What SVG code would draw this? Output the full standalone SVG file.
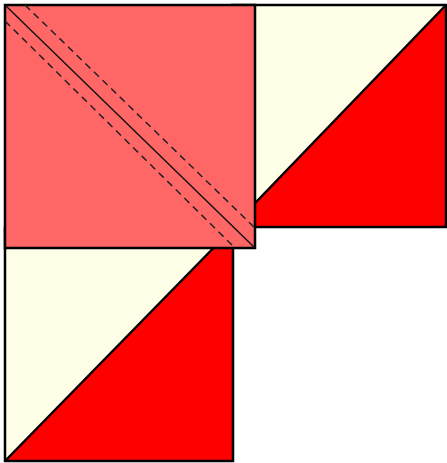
<svg xmlns="http://www.w3.org/2000/svg" width="447" height="463" viewBox="0 0 447 463">
<style>
.cream{fill:#ffffe8;stroke:none}
.red{fill:#ff0000;stroke:none}
.edge{fill:none;stroke:#000;stroke-width:2.5;stroke-linejoin:miter}
.pink{fill:#ff6666;stroke:#000;stroke-width:2.5}
.seam{stroke:#111;stroke-width:1.4;fill:none}
.dash{stroke:#222;stroke-width:1.5;fill:none;stroke-dasharray:7 5}
</style>
<rect width="447" height="463" fill="#fff"/>
<g id="block-bottom">
<polygon class="cream" points="5,228 233,228 5,461"/>
<polygon class="red" points="233,228 233,461 5,461"/>
<rect class="edge" x="5" y="228" width="228" height="233"/>
<line class="edge" x1="5" y1="461" x2="233" y2="228"/>
</g>
<g id="block-right">
<polygon class="cream" points="232,5 446,5 232,227"/>
<polygon class="red" points="446,5 446,227 232,227"/>
<rect class="edge" x="232" y="5" width="214" height="222"/>
<line class="edge" x1="232" y1="227" x2="446" y2="5"/>
</g>
<g id="square-pink">
<rect class="pink" x="5" y="5" width="250" height="243"/>
<line class="seam" x1="5" y1="5" x2="255" y2="248"/>
<line class="dash" x1="25" y1="5" x2="255" y2="228"/>
<line class="dash" x1="5" y1="21" x2="235" y2="248"/>
</g>
</svg>
